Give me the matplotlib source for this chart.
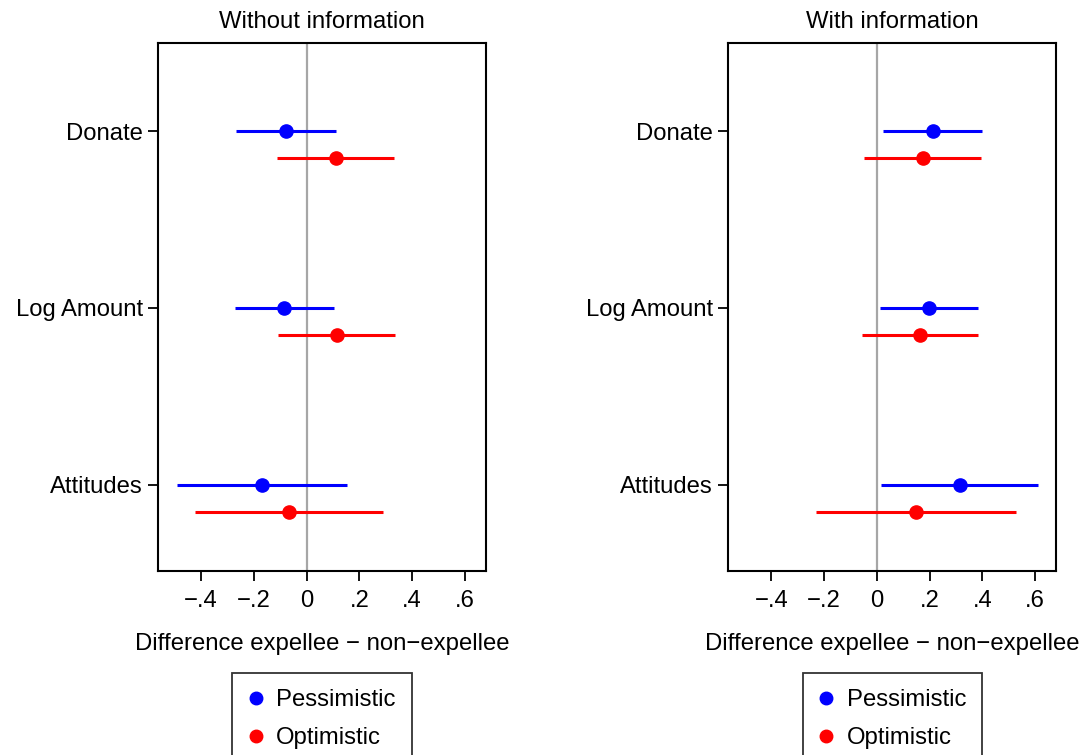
import numpy as np
import matplotlib.pyplot as plt
from matplotlib.lines import Line2D

plt.rcParams['font.family'] = ['Liberation Sans', 'DejaVu Sans']

outcomes = ['Donate', 'Log Amount', 'Attitudes']
panels = ['Without information', 'With information']

# estimates and confidence intervals (point, low, high)
pess_pt = [[-0.078, -0.086, -0.169], [0.211, 0.197, 0.313]]
pess_lo = [[-0.268, -0.272, -0.492], [0.025, 0.013, 0.015]]
pess_hi = [[0.111, 0.102, 0.154], [0.398, 0.382, 0.612]]

opt_pt = [[0.110, 0.114, -0.067], [0.173, 0.163, 0.148]]
opt_lo = [[-0.111, -0.107, -0.424], [-0.048, -0.056, -0.231]]
opt_hi = [[0.333, 0.334, 0.290], [0.395, 0.382, 0.528]]

xticks = [-0.4, -0.2, 0, 0.2, 0.4, 0.6]
xticklabels = ['\u2212.4', '\u2212.2', '0', '.2', '.4', '.6']

fig = plt.figure(figsize=(10.83, 7.55), dpi=100)
axes = [fig.add_axes([0.1459, 0.2437, 0.3029, 0.6993]),
        fig.add_axes([0.6725, 0.2437, 0.3029, 0.6993])]

pos = np.arange(1, len(outcomes) + 1)
off = 0.15
fs = 17.2

for k, ax in enumerate(axes):
    ax.axvline(0, color='#a6a6a6', lw=1.6, zorder=1)
    for pt, lo, hi, y, c in [(pess_pt[k], pess_lo[k], pess_hi[k], pos, 'blue'),
                             (opt_pt[k], opt_lo[k], opt_hi[k], pos + off, 'red')]:
        pt = np.array(pt); lo = np.array(lo); hi = np.array(hi)
        ax.errorbar(pt, y, xerr=[pt - lo, hi - pt], fmt='o', color=c,
                    ms=9.5, elinewidth=2.2, capsize=0, zorder=3)
    ax.set_ylim(3.486, 0.503)
    ax.set_xlim(-0.563, 0.68)
    ax.set_yticks(pos)
    ax.set_yticklabels(outcomes, fontsize=fs)
    ax.set_xticks(xticks)
    ax.set_xticklabels(xticklabels, fontsize=fs)
    ax.tick_params(axis='both', direction='out', length=7, width=1.3, colors='black')
    ax.tick_params(axis='x', pad=7)
    ax.tick_params(axis='y', pad=4)
    for s in ax.spines.values():
        s.set_linewidth(1.5)
    ax.set_title(panels[k], fontsize=fs, pad=11)
    ax.set_xlabel('Difference expellee \u2212 non\u2212expellee', fontsize=fs, labelpad=15)

    handles = [Line2D([], [], marker='o', color='blue', ls='none', ms=9),
               Line2D([], [], marker='o', color='red', ls='none', ms=9)]
    leg = ax.legend(handles, ['Pessimistic', 'Optimistic'], loc='upper center',
                    bbox_to_anchor=(0.5, -0.193), fontsize=fs, frameon=True,
                    fancybox=False, edgecolor='black', handlelength=0.6,
                    handletextpad=0.56, borderpad=0.68, labelspacing=0.68,
                    borderaxespad=0)
    leg.get_frame().set_linewidth(1.3)

fig.savefig('out.png', dpi=100)
